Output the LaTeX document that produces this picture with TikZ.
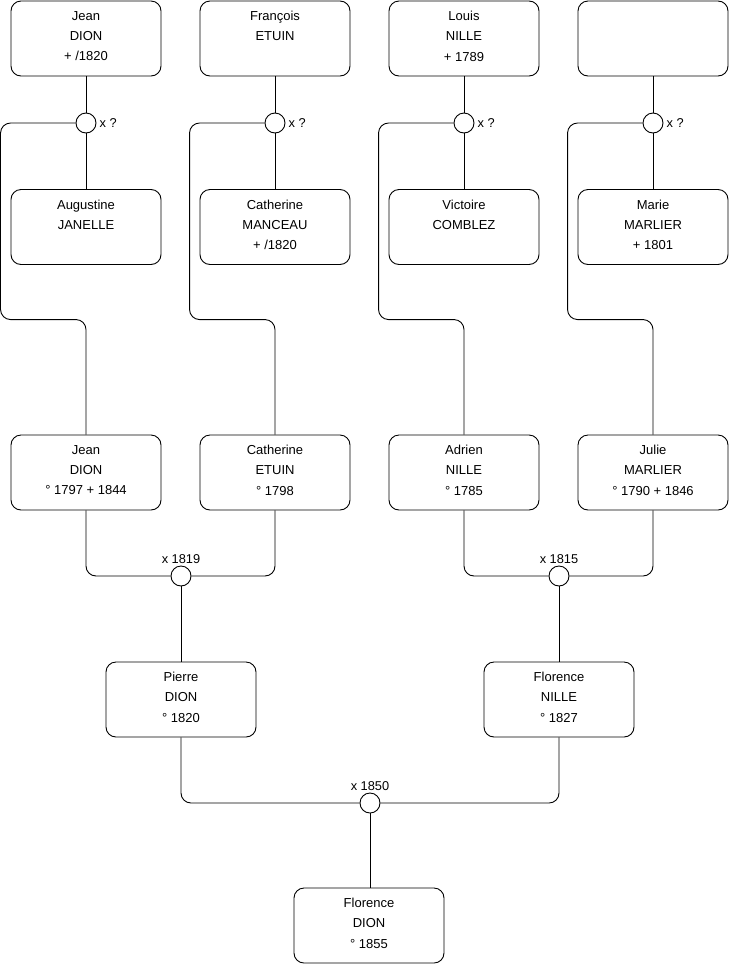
\documentclass[tikz,border=0pt]{standalone}
\usepackage{fontspec}
\setmainfont{Liberation Sans}
\begin{document}
\begin{tikzpicture}[x=1pt,y=-1pt,
  person/.style={draw, line width=0.9pt, rounded corners=10pt, minimum width=150pt, minimum height=75pt, inner sep=0pt},
  txt/.style={font=\fontsize{13}{20.2}\selectfont, align=center, anchor=north, inner sep=0pt, yshift=-10.5pt},
  union/.style={draw, line width=0.9pt, circle, minimum size=20pt, inner sep=0pt, fill=white},
  lbl/.style={font=\fontsize{12.8}{15}\selectfont, inner sep=0pt},
  link/.style={line width=0.9pt, rounded corners=10pt}]
\useasboundingbox (0,0) rectangle (740,975);
% top row
\node[person, label={[txt]north:Jean\\DION\\+ /1820}] (p1) at (86,38.5) {};
\node[person, label={[txt]north:François\\ETUIN}] (p2) at (275,38.5) {};
\node[person, label={[txt]north:Louis\\NILLE\\+ 1789}] (p3) at (464,38.5) {};
\node[person] (p4) at (653,38.5) {};
% second row
\node[person, label={[txt]north:Augustine\\JANELLE}] (s1) at (86,227) {};
\node[person, label={[txt]north:Catherine\\MANCEAU\\+ /1820}] (s2) at (275,227) {};
\node[person, label={[txt]north:Victoire\\COMBLEZ}] (s3) at (464,227) {};
\node[person, label={[txt]north:Marie\\MARLIER\\+ 1801}] (s4) at (653,227) {};
% unions top
\foreach \i/\x in {1/86,2/275,3/464,4/653}{
  \node[union, label={[lbl, xshift=3pt]east:x ?}] (u\i) at (\x,123) {};
}
% third row
\node[person, label={[txt]north:Jean\\DION\\° 1797 + 1844}] (c1) at (86,472.5) {};
\node[person, label={[txt]north:Catherine\\ETUIN\\° 1798}] (c2) at (275,472.5) {};
\node[person, label={[txt]north:Adrien\\NILLE\\° 1785}] (c3) at (464,472.5) {};
\node[person, label={[txt]north:Julie\\MARLIER\\° 1790 + 1846}] (c4) at (653,472.5) {};
% connectors top
\foreach \i in {1,2,3,4}{
  \draw[line width=0.9pt] (p\i.south) -- (u\i.north);
  \draw[line width=0.9pt] (u\i.south) -- (s\i.north);
  \draw[link] (u\i.west) -- ++(-75,0) |- ([yshift=115pt]c\i.north) -- (c\i.north);
}
% second-level unions
\node[union, label={[lbl, yshift=2pt]north:x 1819}] (m1) at (181,576) {};
\node[union, label={[lbl, yshift=2pt]north:x 1815}] (m2) at (559,576) {};
\draw[link] (c1.south) |- (m1.west);
\draw[link] (c2.south) |- (m1.east);
\draw[link] (c3.south) |- (m2.west);
\draw[link] (c4.south) |- (m2.east);
% fourth row
\node[person, label={[txt]north:Pierre\\DION\\° 1820}] (g1) at (181,699.5) {};
\node[person, label={[txt]north:Florence\\NILLE\\° 1827}] (g2) at (559,699.5) {};
\draw[line width=0.9pt] (m1.south) -- (g1.north);
\draw[line width=0.9pt] (m2.south) -- (g2.north);
% final union
\node[union, label={[lbl, yshift=2pt]north:x 1850}] (m3) at (370,803) {};
\draw[link] (g1.south) |- (m3.west);
\draw[link] (g2.south) |- (m3.east);
\node[person, label={[txt]north:Florence\\DION\\° 1855}] (f) at (369,925.5) {};
\draw[line width=0.9pt] (m3.south) -- (m3.south |- f.north);
\end{tikzpicture}
\end{document}
